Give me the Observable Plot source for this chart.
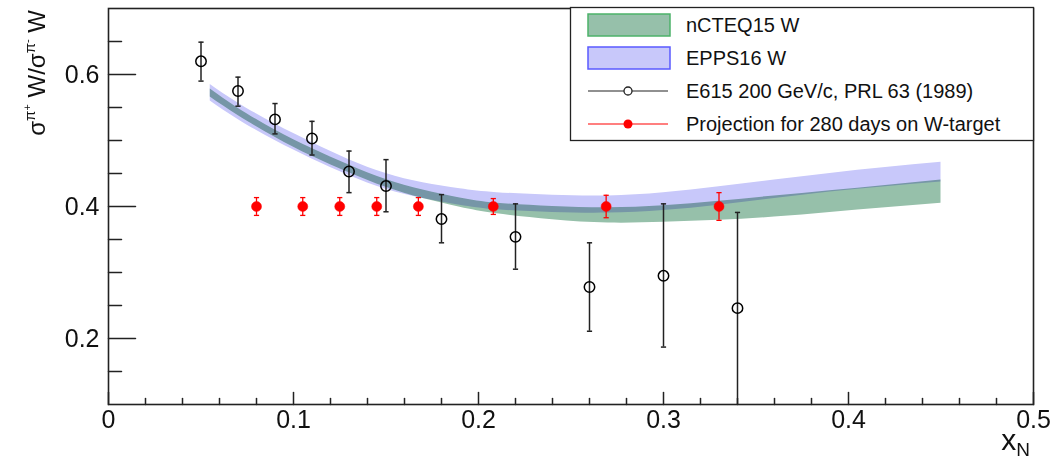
<!DOCTYPE html>
<html>
<head>
<meta charset="utf-8">
<script src="https://cdn.jsdelivr.net/npm/d3@7"></script>
<script src="https://cdn.jsdelivr.net/npm/@observablehq/plot@0.6"></script>
<style>
  html, body { margin: 0; padding: 0; background: white; }
  #chart svg { display: block; }
</style>
</head>
<body>
<div id="chart"></div>
<script>
// ---------- data ----------
const e615X  = [0.05, 0.07, 0.09, 0.11, 0.13, 0.15, 0.18, 0.22, 0.26, 0.30, 0.34];
const e615Y  = [0.620, 0.575, 0.532, 0.503, 0.453, 0.431, 0.381, 0.354, 0.278, 0.295, 0.246];
const e615Hi = [0.649, 0.596, 0.556, 0.529, 0.484, 0.471, 0.418, 0.404, 0.345, 0.404, 0.391];
const e615Lo = [0.590, 0.552, 0.510, 0.478, 0.421, 0.392, 0.345, 0.305, 0.211, 0.187, 0.098];

const projX   = [0.08, 0.105, 0.125, 0.145, 0.1675, 0.208, 0.269, 0.33];
const projY   = [0.40, 0.40, 0.40, 0.40, 0.40, 0.40, 0.40, 0.40];
const projErr = [0.0135, 0.0135, 0.0135, 0.0135, 0.0135, 0.012, 0.017, 0.021];

const bandX    = [0.055, 0.07, 0.09, 0.11, 0.13, 0.15, 0.17, 0.19, 0.21, 0.24, 0.27, 0.30, 0.33, 0.36, 0.39, 0.42, 0.45];
const eppsHi   = [0.585, 0.557, 0.525, 0.497, 0.471, 0.450, 0.436, 0.427, 0.421, 0.417, 0.416, 0.421, 0.430, 0.440, 0.450, 0.459, 0.467];
const eppsLo   = [0.560, 0.532, 0.500, 0.472, 0.447, 0.426, 0.412, 0.402, 0.395, 0.391, 0.390, 0.394, 0.402, 0.412, 0.422, 0.430, 0.437];
const ncteqHi  = [0.578, 0.549, 0.516, 0.488, 0.463, 0.441, 0.425, 0.413, 0.405, 0.400, 0.398, 0.401, 0.408, 0.416, 0.424, 0.432, 0.440];
const ncteqLo  = [0.566, 0.538, 0.505, 0.476, 0.451, 0.429, 0.412, 0.399, 0.389, 0.380, 0.375, 0.376, 0.379, 0.384, 0.391, 0.398, 0.405];

const xTickVals   = [0, 0.1, 0.2, 0.3, 0.4, 0.5];
const xTickLabels = ["0", "0.1", "0.2", "0.3", "0.4", "0.5"];
const xMinorTicks = [0.02, 0.04, 0.06, 0.08, 0.12, 0.14, 0.16, 0.18, 0.22, 0.24, 0.26, 0.28, 0.32, 0.34, 0.36, 0.38, 0.42, 0.44, 0.46, 0.48];
const yTickVals   = [0.2, 0.4, 0.6];
const yTickLabels = ["0.2", "0.4", "0.6"];
const yMinorTicks = [0.15, 0.25, 0.3, 0.35, 0.45, 0.5, 0.55, 0.65];

const legendLabels = ["nCTEQ15 W", "EPPS16 W", "E615 200 GeV/c, PRL 63 (1989)", "Projection for 280 days on W-target"];

// ---------- tables ----------
const e615 = e615X.map((x, i) => ({x, y: e615Y[i], hi: e615Hi[i], lo: e615Lo[i]}));
const proj = projX.map((x, i) => ({x, y: projY[i], hi: projY[i] + projErr[i], lo: projY[i] - projErr[i]}));
const bands = bandX.map((x, i) => ({x, eHi: eppsHi[i], eLo: eppsLo[i], nHi: ncteqHi[i], nLo: ncteqLo[i]}));

const X_DOMAIN = [0, 0.5];
const Y_DOMAIN = [0.1, 0.7];
const FONT = "'Liberation Sans', Arial, Helvetica, sans-serif";

const cap = {draw(ctx, size) { const w = Math.sqrt(size / Math.PI); ctx.moveTo(-w, 0); ctx.lineTo(w, 0); }};
const tickUp = {draw(ctx, l) { ctx.moveTo(0, 0); ctx.lineTo(0, -l); }};
const tickRight = {draw(ctx, l) { ctx.moveTo(0, 0); ctx.lineTo(l, 0); }};
const AX = "#222";

const chart = Plot.plot({
  width: 1053,
  height: 459,
  marginLeft: 108,
  marginRight: 20,
  marginTop: 8,
  marginBottom: 55,
  x: {domain: X_DOMAIN},
  y: {domain: Y_DOMAIN},
  style: {fontFamily: FONT, background: "white", color: "#111"},
  marks: [
    Plot.areaY(bands, {x: "x", y1: "nLo", y2: "nHi", fill: "#96c0aa", curve: "natural"}),
    Plot.areaY(bands, {x: "x", y1: "eLo", y2: "eHi", fill: "#c8c8fa", curve: "natural", mixBlendMode: "multiply"}),

    // E615 data
    Plot.ruleX(e615, {x: "x", y1: "lo", y2: "hi", stroke: "#222", strokeWidth: 1.5, clip: true}),
    Plot.dot(e615, {x: "x", y: "hi", symbol: cap, r: 2.6, stroke: "#222", strokeWidth: 1.5, clip: true}),
    Plot.dot(e615, {x: "x", y: "lo", symbol: cap, r: 2.6, stroke: "#222", strokeWidth: 1.5, clip: true}),
    Plot.dot(e615, {x: "x", y: "y", r: 5.2, stroke: "black", strokeWidth: 1.5, fill: "none"}),

    // Projection
    Plot.ruleX(proj, {x: "x", y1: "lo", y2: "hi", stroke: "#ff0000", strokeWidth: 1.3}),
    Plot.dot(proj, {x: "x", y: "hi", symbol: cap, r: 2.6, stroke: "#ff0000", strokeWidth: 1.3}),
    Plot.dot(proj, {x: "x", y: "lo", symbol: cap, r: 2.6, stroke: "#ff0000", strokeWidth: 1.3}),
    Plot.dot(proj, {x: "x", y: "y", r: 5, fill: "#ff0000", stroke: "#ff0000", strokeWidth: 0.5}),

    // frame and ticks
    Plot.frame({stroke: AX, strokeWidth: 1.6}),
    Plot.vector(xTickVals, {x: d => d, y: Y_DOMAIN[0], length: 12, shape: tickUp, anchor: "start", stroke: AX, strokeWidth: 1.5}),
    Plot.vector(xMinorTicks, {x: d => d, y: Y_DOMAIN[0], length: 6, shape: tickUp, anchor: "start", stroke: AX, strokeWidth: 1.5}),
    Plot.vector(yTickVals, {x: X_DOMAIN[0], y: d => d, length: 27, shape: tickRight, anchor: "start", stroke: AX, strokeWidth: 1.5}),
    Plot.vector(yMinorTicks, {x: X_DOMAIN[0], y: d => d, length: 13, shape: tickRight, anchor: "start", stroke: AX, strokeWidth: 1.5}),

    Plot.axisX({ticks: xTickVals, tickFormat: d => xTickLabels[xTickVals.indexOf(d)], tickSize: 0, tickPadding: 6, fontSize: 25, label: null}),
    Plot.axisY({ticks: yTickVals, tickFormat: d => yTickLabels[yTickVals.indexOf(d)], tickSize: 0, tickPadding: 9, fontSize: 25, label: null})
  ]
});

document.getElementById("chart").appendChild(chart);

// ---------- legend, axis titles ----------
const svg = d3.select(chart.tagName.toLowerCase() === "svg" ? chart : chart.querySelector("svg"));
const lg = svg.append("g").attr("font-family", FONT).attr("font-size", 20).attr("fill", "#111").attr("text-anchor", "start");
lg.append("rect").attr("x", 570.5).attr("y", 7.5).attr("width", 463).attr("height", 133)
  .attr("fill", "white").attr("stroke", AX).attr("stroke-width", 1.3);
const rowY = [25, 58, 91, 124];
lg.append("rect").attr("x", 588).attr("y", rowY[0] - 11).attr("width", 82).attr("height", 22)
  .attr("fill", "#96c0aa").attr("stroke", "#4cb26a").attr("stroke-width", 1.5);
lg.append("rect").attr("x", 588).attr("y", rowY[1] - 11).attr("width", 82).attr("height", 22)
  .attr("fill", "#c8c8fa").attr("stroke", "#5a5aff").attr("stroke-width", 1.5);
lg.append("line").attr("x1", 588).attr("x2", 668).attr("y1", rowY[2]).attr("y2", rowY[2]).attr("stroke", "#222").attr("stroke-width", 1.2);
lg.append("circle").attr("cx", 628).attr("cy", rowY[2]).attr("r", 4).attr("fill", "white").attr("stroke", "#222").attr("stroke-width", 1.3);
lg.append("line").attr("x1", 588).attr("x2", 668).attr("y1", rowY[3]).attr("y2", rowY[3]).attr("stroke", "#ff0000").attr("stroke-width", 1.2);
lg.append("circle").attr("cx", 628).attr("cy", rowY[3]).attr("r", 4.5).attr("fill", "#ff0000");
legendLabels.forEach((t, i) => {
  lg.append("text").attr("x", 686).attr("y", rowY[i] + 7).attr("text-anchor", "start").text(t);
});

// y-axis title
const yt = svg.append("text").attr("font-family", FONT).attr("font-size", 24).attr("fill", "#111")
  .attr("text-anchor", "end").attr("transform", "translate(45,10) rotate(-90)");
yt.append("tspan").text("σ");
yt.append("tspan").attr("font-size", 15).attr("dy", -10).text("π");
yt.append("tspan").attr("font-size", 11).attr("dy", -4).text("+");
yt.append("tspan").attr("font-size", 24).attr("dy", 14).text(" W/σ");
yt.append("tspan").attr("font-size", 15).attr("dy", -10).text("π");
yt.append("tspan").attr("font-size", 11).attr("dy", -4).text("-");
yt.append("tspan").attr("font-size", 24).attr("dy", 14).text(" W");

// x-axis title
const xt = svg.append("text").attr("font-family", FONT).attr("font-size", 30).attr("fill", "#111")
  .attr("text-anchor", "end").attr("x", 1030).attr("y", 450);
xt.append("tspan").text("x");
xt.append("tspan").attr("font-size", 19).attr("dy", 6).text("N");
</script>
</body>
</html>
